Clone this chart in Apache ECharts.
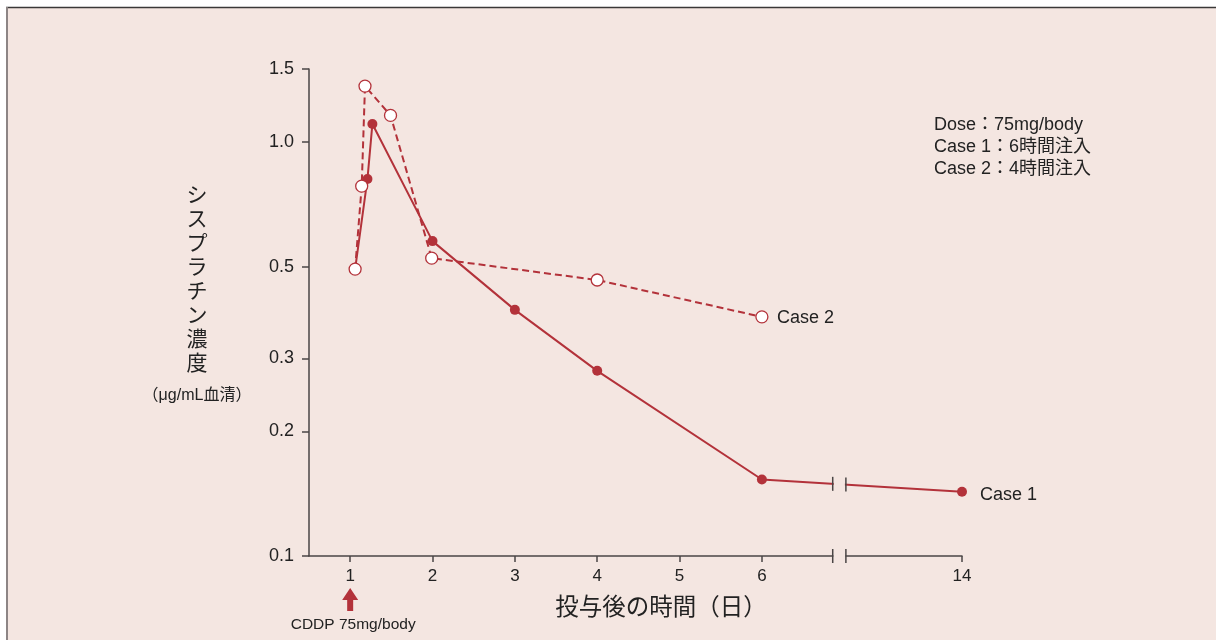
<!DOCTYPE html>
<html>
<head>
<meta charset="utf-8">
<script src="https://cdn.jsdelivr.net/npm/echarts@6/dist/echarts.min.js"></script>
<style>
  html, body { margin: 0; padding: 0; background: #ffffff; }
  #chart { width: 1216px; height: 640px; }
</style>
</head>
<body>
<div id="chart"></div>
<script>
// Days after administration and serum cisplatin concentration (µg/mL)
const dayTicks = [1, 2, 3, 4, 5, 6, 14];
const concTicks = [0.1, 0.2, 0.3, 0.5, 1.0, 1.5];

const case1Days = [1.06, 1.21, 1.27, 2, 3, 4, 6, 14];
const case1Conc = [0.493, 0.814, 1.105, 0.576, 0.393, 0.280, 0.153, 0.143];

const case2Days = [1.06, 1.14, 1.18, 1.49, 1.99, 4, 6];
const case2Conc = [0.493, 0.782, 1.364, 1.159, 0.524, 0.464, 0.378];

// Broken stretch of the time axis (between day 6 and day 14)
const axisBreak = { start: 6.86, end: 12.59, gap: 0.16 };
const doseDay = 1;

const notes = ['Dose：75mg/body', 'Case 1：6時間注入', 'Case 2：4時間注入'];
const yTitle = 'シスプラチン濃度';
const yUnit = '（μg/mL血清）';
const xTitle = '投与後の時間（日）';
const doseLabel = 'CDDP 75mg/body';

const RED = '#b3323a';
const BG = '#f4e6e1';
const INK = '#222222';
const AXIS = '#4a4545';
const FONT = "'Liberation Sans', 'Noto Sans CJK JP', sans-serif";

// Concentrations are plotted on a base-10 logarithmic scale
const lg = v => Math.log10(v);
const yMin = lg(concTicks[0]);
const yMax = lg(concTicks[concTicks.length - 1]);

const case1Data = case1Days.map((d, i) => [d, lg(case1Conc[i])]);
const case2Data = case2Days.map((d, i) => [d, lg(case2Conc[i])]);

const chart = echarts.init(document.getElementById('chart'), null, { renderer: 'canvas' });

// Short "||" marks where the axis and the Case 1 line cross the break
function renderBreakMarks(params, api) {
  const children = [];
  let seg = 0;
  for (let i = 0; i < case1Data.length - 1; i++) {
    if (case1Data[i][0] <= axisBreak.start && case1Data[i + 1][0] >= axisBreak.end) { seg = i; }
  }
  const a = api.coord(case1Data[seg]);
  const b = api.coord(case1Data[seg + 1]);
  const s = api.coord([axisBreak.start, yMin]);
  const e = api.coord([axisBreak.end, yMin]);
  const lineY = x => a[1] + (b[1] - a[1]) * (x - a[0]) / (b[0] - a[0]);
  // clear the gap on the axis line and on the series line
  children.push({ type: 'rect', shape: { x: s[0] + 1, y: s[1] - 3, width: e[0] - s[0] - 2, height: 6 }, style: { fill: BG } });
  children.push({ type: 'rect', shape: { x: s[0] + 1, y: lineY((s[0] + e[0]) / 2) - 3, width: e[0] - s[0] - 2, height: 6 }, style: { fill: BG } });
  [s[0], e[0]].forEach(x => {
    children.push({ type: 'line', shape: { x1: x, y1: s[1] - 7, x2: x, y2: s[1] + 7 }, style: { stroke: AXIS, lineWidth: 1.5 } });
    const ly = lineY(x);
    children.push({ type: 'line', shape: { x1: x, y1: ly - 7, x2: x, y2: ly + 7 }, style: { stroke: AXIS, lineWidth: 1.5 } });
  });
  return { type: 'group', children };
}

// Upward arrow marking the dose day, with its caption
function renderDoseArrow(params, api) {
  const p = api.coord([doseDay, yMin]);
  const x = p[0], y = p[1];
  return {
    type: 'group',
    children: [
      {
        type: 'polygon',
        shape: { points: [[x, y + 32], [x + 8, y + 44], [x + 3, y + 44], [x + 3, y + 55], [x - 3, y + 55], [x - 3, y + 44], [x - 8, y + 44]] },
        style: { fill: RED }
      },
      {
        type: 'text',
        x: x + 3, y: y + 69,
        style: { text: doseLabel, fill: INK, font: '15.5px ' + FONT, align: 'center', verticalAlign: 'middle' }
      }
    ]
  };
}

const option = {
  animation: false,
  backgroundColor: BG,
  grid: { left: 309, right: 254, top: 69, bottom: 84, containLabel: false },
  xAxis: {
    type: 'value',
    min: 0.5,
    max: 14,
    breaks: [{ start: axisBreak.start, end: axisBreak.end, gap: axisBreak.gap }],
    breakArea: { show: false, expandOnClick: false },
    axisLine: { show: true, onZero: false, lineStyle: { color: AXIS, width: 1.5 } },
    axisTick: { show: true, customValues: dayTicks, length: 6, lineStyle: { color: AXIS, width: 1.5 } },
    axisLabel: { customValues: dayTicks, color: INK, fontSize: 17, fontFamily: FONT, margin: 12 },
    splitLine: { show: false }
  },
  yAxis: {
    type: 'value',
    min: yMin,
    max: yMax,
    axisLine: { show: true, lineStyle: { color: AXIS, width: 1.5 } },
    axisTick: { show: true, customValues: concTicks.map(lg), length: 7, lineStyle: { color: AXIS, width: 1.5 } },
    axisLabel: {
      customValues: concTicks.map(lg),
      formatter: v => Math.pow(10, v).toFixed(1),
      color: INK, fontSize: 18, fontFamily: FONT, margin: 15
    },
    splitLine: { show: false }
  },
  graphic: [
    { type: 'rect', shape: { x: 0, y: 0, width: 1216, height: 7 }, style: { fill: '#ffffff' }, silent: true },
    { type: 'rect', shape: { x: 0, y: 0, width: 6, height: 640 }, style: { fill: '#ffffff' }, silent: true },
    { type: 'line', shape: { x1: 6, y1: 7.5, x2: 1216, y2: 7.5 }, style: { stroke: '#3a3838', lineWidth: 1.5 }, silent: true },
    { type: 'line', shape: { x1: 7, y1: 7, x2: 7, y2: 640 }, style: { stroke: '#8d8585', lineWidth: 2 }, silent: true },
    {
      type: 'text', left: 934, top: 114,
      style: { text: notes.join('\n'), fill: INK, font: '18px ' + FONT, lineHeight: 22 }
    },
    {
      type: 'text', x: 197, y: 280,
      style: { text: yTitle.split('').join('\n'), fill: INK, font: '21px ' + FONT, lineHeight: 24, align: 'center', verticalAlign: 'middle' }
    },
    {
      type: 'text', x: 197, y: 396,
      style: { text: yUnit, fill: INK, font: '16px ' + FONT, align: 'center', verticalAlign: 'middle' }
    },
    {
      type: 'text', x: 661, y: 609,
      style: { text: xTitle, fill: INK, font: '23.5px ' + FONT, align: 'center', verticalAlign: 'middle' }
    }
  ],
  series: [
    {
      name: 'Case 1',
      type: 'line',
      data: case1Data,
      symbol: 'circle',
      symbolSize: 10,
      lineStyle: { color: RED, width: 2 },
      itemStyle: { color: RED },
      endLabel: { show: true, formatter: 'Case 1', color: INK, fontSize: 18, fontFamily: FONT, distance: 18, offset: [0, 3] },
      z: 3
    },
    {
      name: 'Case 2',
      type: 'line',
      data: case2Data,
      symbol: 'circle',
      symbolSize: 12,
      lineStyle: { color: RED, width: 2, type: [7, 4] },
      itemStyle: { color: '#ffffff', borderColor: RED, borderWidth: 1.3 },
      endLabel: { show: true, formatter: 'Case 2', color: INK, fontSize: 18, fontFamily: FONT, distance: 15, offset: [0, 1] },
      z: 4
    },
    {
      type: 'custom',
      renderItem: renderBreakMarks,
      data: [[axisBreak.start, yMin]],
      clip: false,
      silent: true,
      z: 5
    },
    {
      type: 'custom',
      renderItem: renderDoseArrow,
      data: [[doseDay, yMin]],
      clip: false,
      silent: true,
      z: 5
    }
  ]
};

chart.setOption(option);
</script>
</body>
</html>
